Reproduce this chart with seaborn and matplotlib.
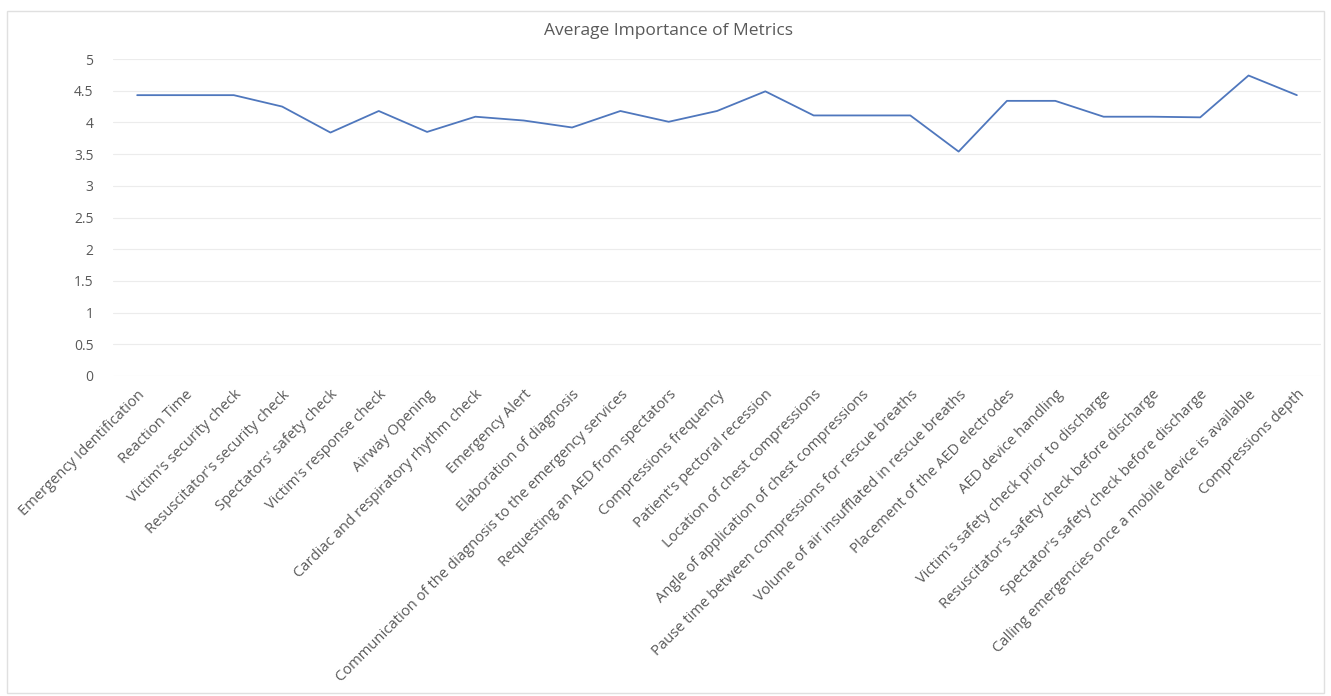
import matplotlib
matplotlib.use("Agg")
import matplotlib.pyplot as plt
import matplotlib.patches as mpatches
import seaborn as sns
import pandas as pd

metrics = [
    "Emergency Identification",
    "Reaction Time",
    "Victim's security check",
    "Resuscitator's security check",
    "Spectators' safety check",
    "Victim's response check",
    "Airway Opening",
    "Cardiac and respiratory rhythm check",
    "Emergency Alert",
    "Elaboration of diagnosis",
    "Communication of the diagnosis to the emergency services",
    "Requesting an AED from spectators",
    "Compressions frequency",
    "Patient's pectoral recession",
    "Location of chest compressions",
    "Angle of application of chest compressions",
    "Pause time between compressions for rescue breaths",
    "Volume of air insufflated in rescue breaths",
    "Placement of the AED electrodes",
    "AED device handling",
    "Victim's safety check prior to discharge",
    "Resuscitator's safety check before discharge",
    "Spectator's safety check before discharge",
    "Calling emergencies once a mobile device is available",
    "Compressions depth",
]
importance = [4.43, 4.43, 4.43, 4.25, 3.84, 4.18, 3.85, 4.09, 4.03, 3.92,
              4.18, 4.01, 4.18, 4.49, 4.11, 4.11, 4.11, 3.54, 4.34, 4.34,
              4.09, 4.09, 4.08, 4.74, 4.43]
y_ticks = [0, 0.5, 1, 1.5, 2, 2.5, 3, 3.5, 4, 4.5, 5]

sns.set_style("white")
plt.rcParams["font.family"] = ["Open Sans", "DejaVu Sans"]

df = pd.DataFrame({"metric": metrics, "value": importance})
df["pos"] = range(len(df))

fig = plt.figure(figsize=(13.31, 6.96), dpi=100)
ax = fig.add_axes([0.0849, 0.4598, 0.9076, 0.4554])

# light frame around the whole chart like the spreadsheet export
fig.patches.append(mpatches.Rectangle((0.005, 0.005), 0.99, 0.979,
                                      transform=fig.transFigure, fill=False,
                                      edgecolor="#e0e0e0", linewidth=1))

sns.lineplot(data=df, x="pos", y="value", ax=ax, color="#4f77bd",
             linewidth=1.3)

ax.set_xlim(-0.5, len(metrics) - 0.5)
ax.set_ylim(0, 5)
ax.set_yticks(y_ticks)
ax.set_yticklabels([f"{t:g}" for t in y_ticks])
ax.set_xticks(range(len(metrics)))
ax.set_xticklabels(metrics, rotation=45, ha="right", rotation_mode="anchor")
ax.tick_params(axis="y", length=0, labelsize=10, colors="#595959", pad=14)
ax.tick_params(axis="x", length=0, labelsize=10.6, colors="#595959", pad=8)
ax.yaxis.grid(True, color="#ececec", linewidth=0.8)
ax.set_axisbelow(True)
for s in ax.spines.values():
    s.set_visible(False)
ax.set_xlabel("")
ax.set_ylabel("")

fig.text(0.502, 0.955, "Average Importance of Metrics", ha="center",
         va="center", fontsize=12.5, color="#595959")

fig.savefig("out.png", dpi=100)
plt.close(fig)
